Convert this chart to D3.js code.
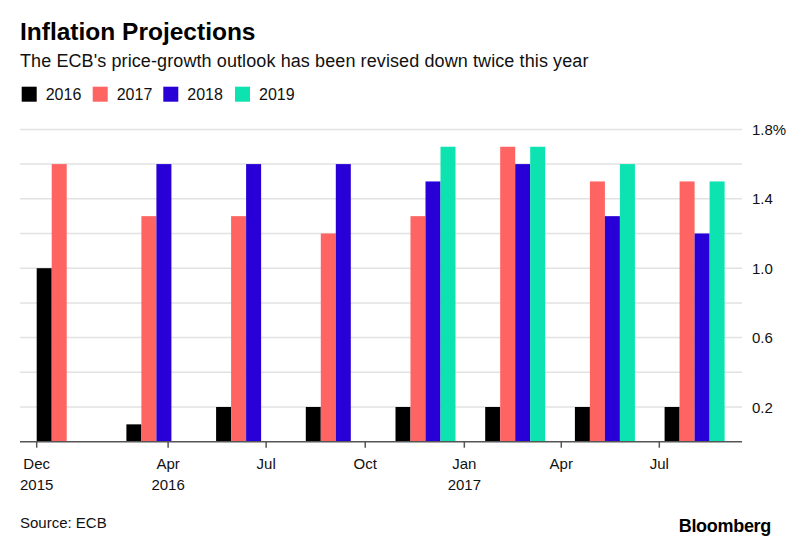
<!DOCTYPE html>
<html>
<head>
<meta charset="utf-8">
<script src="https://cdn.jsdelivr.net/npm/d3@7"></script>
<style>
  body { margin: 0; background: #fff; }
  text { font-family: "Liberation Sans", Arial, sans-serif; }
</style>
</head>
<body>
<div id="chart"></div>
<script>
// chart data
const meetings = ["Dec 2015", "Mar 2016", "Jun 2016", "Sep 2016", "Dec 2016", "Mar 2017", "Jun 2017", "Sep 2017"];
const years = ["2016", "2017", "2018", "2019"];
const proj2016 = [1.0, 0.1, 0.2, 0.2, 0.2, 0.2, 0.2, 0.2];
const proj2017 = [1.6, 1.3, 1.3, 1.2, 1.3, 1.7, 1.5, 1.5];
const proj2018 = [null, 1.6, 1.6, 1.6, 1.5, 1.6, 1.3, 1.2];
const proj2019 = [null, null, null, null, 1.7, 1.7, 1.6, 1.5];
const yTickLabels = [0.2, 0.6, 1.0, 1.4, 1.8];
const xTickDates = ["2015-12-01", "2016-04-01", "2016-07-01", "2016-10-01", "2017-01-01", "2017-04-01", "2017-07-01"];
const xTickMonths = ["Dec", "Apr", "Jul", "Oct", "Jan", "Apr", "Jul"];
const xTickYears = ["2015", "2016", "", "", "2017", "", ""];

const colors = ["#000000", "#fe6462", "#2800d7", "#0ce3b0"];

const width = 800, height = 546;
const plotLeft = 20, plotRight = 742;
const baseY = 441.7, topY = 129.4;

const svg = d3.select("#chart")
    .append("svg")
    .attr("width", width)
    .attr("height", height);

// header
svg.append("text")
    .attr("x", 20).attr("y", 40)
    .style("font-size", "24.5px")
    .style("font-weight", "bold")
    .text("Inflation Projections");

svg.append("text")
    .attr("x", 20).attr("y", 67)
    .style("font-size", "18px")
    .style("letter-spacing", "0.1px")
    .attr("fill", "#111")
    .text("The ECB's price-growth outlook has been revised down twice this year");

// legend
const legend = svg.selectAll(".legend")
    .data(years)
    .enter().append("g")
    .attr("class", "legend")
    .attr("transform", (d, i) => `translate(${21.7 + [0, 71, 141.6, 213.3][i]},86.7)`);

legend.append("rect")
    .attr("width", 15).attr("height", 15)
    .attr("fill", (d, i) => colors[i]);

legend.append("text")
    .attr("x", 24).attr("y", 13.5)
    .style("font-size", "16px")
    .attr("fill", "#111")
    .text(d => d);

// scales
const y = d3.scaleLinear()
    .domain([0, 1.8])
    .range([baseY, topY]);

const x0 = d3.scaleBand()
    .domain(meetings)
    .range([36.7, 724.6])
    .paddingInner(0.331)
    .paddingOuter(0);

const x1 = d3.scaleBand()
    .domain(years)
    .range([0, x0.bandwidth()]);

const xt = d3.scaleTime()
    .domain([new Date(2015, 11, 1), new Date(2017, 6, 1)])
    .range([36.7, 659.3]);

// gridlines
svg.selectAll(".grid")
    .data(y.ticks(10).filter(v => v > 0))
    .enter().append("line")
    .attr("class", "grid")
    .attr("x1", plotLeft).attr("x2", plotRight)
    .attr("y1", d => y(d)).attr("y2", d => y(d))
    .attr("stroke", "#e2e2e2")
    .attr("stroke-width", 1.5);

// y labels on the right
svg.selectAll(".ylab")
    .data(yTickLabels)
    .enter().append("text")
    .attr("class", "ylab")
    .attr("x", 752)
    .attr("y", d => y(d) + 5.5)
    .style("font-size", "15px")
    .attr("fill", "#111")
    .text((d, i) => d.toFixed(1) + (i === yTickLabels.length - 1 ? "%" : ""));

// bars
const series = [proj2016, proj2017, proj2018, proj2019];
const barData = [];
meetings.forEach((m, i) => {
    years.forEach((yr, j) => {
        if (series[j][i] != null) barData.push({meeting: m, year: yr, value: series[j][i], idx: j});
    });
});

svg.selectAll(".bar")
    .data(barData)
    .enter().append("rect")
    .attr("class", "bar")
    .attr("x", d => x0(d.meeting) + x1(d.year))
    .attr("width", x1.bandwidth())
    .attr("y", d => y(d.value))
    .attr("height", d => y(0) - y(d.value))
    .attr("fill", d => colors[d.idx]);

// baseline and time axis
svg.append("line")
    .attr("x1", plotLeft).attr("x2", plotRight)
    .attr("y1", baseY).attr("y2", baseY)
    .attr("stroke", "#555")
    .attr("stroke-width", 1.5);

const parse = d3.timeParse("%Y-%m-%d");
const ticks = svg.selectAll(".xtick")
    .data(xTickDates)
    .enter().append("g")
    .attr("class", "xtick")
    .attr("transform", d => `translate(${xt(parse(d))},${baseY})`);

ticks.append("line")
    .attr("y1", 0).attr("y2", 6)
    .attr("stroke", "#555")
    .attr("stroke-width", 1.5);

ticks.append("text")
    .attr("y", 27.5)
    .attr("text-anchor", "middle")
    .style("font-size", "15px")
    .attr("fill", "#111")
    .text((d, i) => xTickMonths[i]);

ticks.append("text")
    .attr("y", 48.5)
    .attr("text-anchor", "middle")
    .style("font-size", "15px")
    .attr("fill", "#111")
    .text((d, i) => xTickYears[i]);

// footer
svg.append("text")
    .attr("x", 20).attr("y", 528)
    .style("font-size", "15px")
    .attr("fill", "#111")
    .text("Source: ECB");

svg.append("text")
    .attr("x", 771).attr("y", 532)
    .attr("text-anchor", "end")
    .style("font-size", "18px")
    .style("font-weight", "bold")
    .style("letter-spacing", "-0.3px")
    .text("Bloomberg");
</script>
</body>
</html>
